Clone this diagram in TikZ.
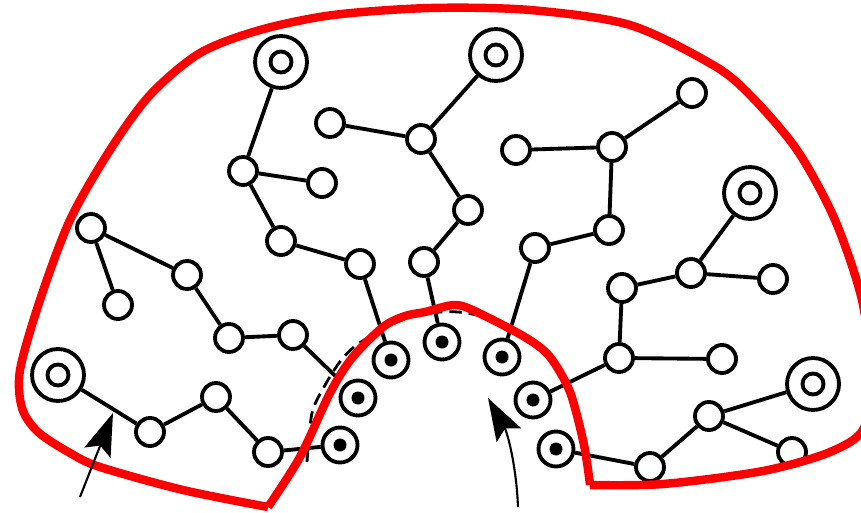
\documentclass[tikz,border=0pt]{standalone}
\usepackage{tikz}
\usetikzlibrary{arrows.meta}
\tikzset{
	site/.style={circle,draw,line width=2.2pt,minimum size=0.56cm,inner sep=0pt},
	seed/.style={site,minimum size=1.04cm,path picture={\draw[line width=2.2pt] (path picture bounding box.center) circle (0.21cm);}},
	core/.style={site,minimum size=0.7cm,path picture={\fill (path picture bounding box.center) circle (0.13cm);}},
	bond/.style={line width=2.2pt},
	rim/.style={red,line width=4.8pt,line join=round},
	pointer/.style={line width=1.2pt,-{Stealth[length=0.85cm,width=0.56cm,inset=0.15cm]}}
}

\begin{document}
\begin{tikzpicture}[x=0.02cm,y=-0.02cm]
	\useasboundingbox (0,0) rectangle (861,513);
	% grafted sites
	\node[core] (g1) at (340,445) {};
	\node[core] (g2) at (358,398) {};
	\node[core] (g3) at (391,360) {};
	\node[core] (g4) at (442,342) {};
	\node[core] (g5) at (502,357) {};
	\node[core] (g6) at (533,400) {};
	\node[core] (g7) at (556,449) {};
	% chain ends
	\node[seed] (e1) at (281,62) {};
	\node[seed] (e2) at (496,55) {};
	\node[seed] (e3) at (750,193) {};
	\node[seed] (e4) at (58,375) {};
	\node[seed] (e5) at (813,384) {};
	% units
	\node[site] (t1) at (243,171) {};
	\node[site] (t2) at (322,183) {};
	\node[site] (t3) at (330,123) {};
	\node[site] (t4) at (421,139) {};
	\node[site] (t5) at (281,241) {};
	\node[site] (t6) at (91,228) {};
	\node[site] (t7) at (468,210) {};
	\node[site] (t8) at (424,262) {};
	\node[site] (t9) at (360,264) {};
	\node[site] (t10) at (118,305) {};
	\node[site] (t11) at (187,275) {};
	\node[site] (t12) at (229,338) {};
	\node[site] (t13) at (293,335) {};
	\node[site] (t14) at (150,432) {};
	\node[site] (t15) at (216,397) {};
	\node[site] (t16) at (268,452) {};
	\node[site] (t17) at (516,150) {};
	\node[site] (t18) at (612,147) {};
	\node[site] (t19) at (692,93) {};
	\node[site] (t20) at (609,230) {};
	\node[site] (t21) at (535,248) {};
	\node[site] (t22) at (622,288) {};
	\node[site] (t23) at (691,273) {};
	\node[site] (t24) at (773,279) {};
	\node[site] (t25) at (619,358) {};
	\node[site] (t26) at (722,359) {};
	\node[site] (t27) at (709,416) {};
	\node[site] (t28) at (792,452) {};
	\node[site] (t29) at (650,467) {};
	\begin{scope}[bond]
	\draw (e1) to (t1) to (t5) to (t9) to (g3);
	\draw (t1) to (t2);
	\draw (e2) to (t4) to (t7) to (t8) to (g4);
	\draw (t3) to (t4);
	\draw (t17) to (t18) to (t20) to (t21) to (g5);
	\draw (t18) to (t19);
	\draw (t10) to (t6) to (t11) to (t12) to (t13);
	\draw[shorten >=0.22cm] (t13) to (g2);
	\draw (e4) to (t14) to (t15) to (t16) to (g1);
	\draw (e3) to (t23) to (t22) to (t25) to (g6);
	\draw (t23) to (t24);
	\draw (t25) to (t26);
	\draw (e5) to (t27) to (t29) to (g7);
	\draw (t27) to (t28);
	\end{scope}
	% surface
	\draw[line width=1.6pt,dash pattern=on 7pt off 4pt] plot[smooth] coordinates {(307,462) (312,413) (324,387) (339,363) (354,347) (376,333) (402,320) (430,313) (458,312) (488,318) (520,333)};
	\draw[rim] plot[smooth] coordinates {(268,507) (300,457) (330,393) (352,358) (383,327) (405,316) (425,312) (457,305) (487,317) (528,339) (550,357) (570,392) (584,445) (590,485)};
	\draw[rim] plot[smooth] coordinates {(590,485) (663,484) (763,471) (830,452) (864,428) (870,370) (862,300) (835,220) (797,150) (750,95) (713,65) (630,25) (530,10) (430,8) (333,15) (260,30) (200,53) (150,95) (110,150) (70,220) (40,300) (20,370) (22,408) (38,432) (70,453) (100,467) (183,490) (268,507)};
	\coordinate (a1) at (80,497);
	\coordinate (a2) at (113,413);
	\coordinate (b1) at (518,507);
	\coordinate (b2) at (488,398);
	\draw[pointer] (a1) -- (a2);
	\draw[pointer] (b1) .. controls (516,460) and (506,430) .. (b2);
\end{tikzpicture}
\end{document}
